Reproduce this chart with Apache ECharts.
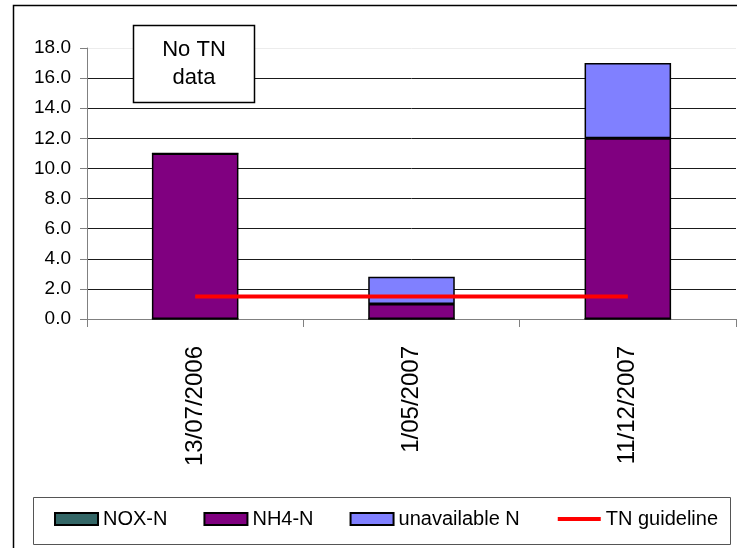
<!DOCTYPE html>
<html>
<head>
<meta charset="utf-8">
<script src="https://cdn.jsdelivr.net/npm/echarts@6/dist/echarts.min.js"></script>
<style>
  html, body { margin: 0; padding: 0; background: #fff; }
  #chart { width: 737px; height: 548px; }
</style>
</head>
<body>
<div id="chart"></div>
<script>
// Sampling dates
const categories = ['13/07/2006', '1/05/2007', '11/12/2007'];
// Nitrogen fractions (stacked)
const noxN = [0, 0, 0];
const nh4N = [11.0, 1.0, 12.0];
const unavailableN = [0, 1.8, 5.0];
// Total nitrogen guideline
const tnGuideline = [1.5, 1.5, 1.5];
// Value axis ticks
const yMin = 0, yMax = 18, yStep = 2;

const FONT = 'Liberation Sans, Arial, sans-serif';
const chart = echarts.init(document.getElementById('chart'), null, { renderer: 'canvas' });

const gridColors = [];
for (let v = yMin; v <= yMax; v += yStep) gridColors.push(v === yMax ? '#ececec' : '#1a1a1a');

chart.setOption({
  animation: false,
  backgroundColor: '#fff',
  textStyle: { fontFamily: FONT },
  grid: { left: 87, right: 1, top: 48, bottom: 229, containLabel: false },
  xAxis: {
    type: 'category',
    data: categories,
    boundaryGap: true,
    axisLine: { lineStyle: { color: '#808080', width: 1 } },
    axisTick: { show: true, length: 8, lineStyle: { color: '#808080' } },
    axisLabel: { rotate: 90, margin: 27, color: '#000', fontSize: 24, fontFamily: FONT },
    splitLine: { show: false }
  },
  yAxis: {
    type: 'value',
    min: yMin, max: yMax, interval: yStep,
    axisLine: { show: true, lineStyle: { color: '#808080', width: 1 } },
    axisTick: { show: true, length: 7, lineStyle: { color: '#808080' } },
    axisLabel: {
      color: '#000', fontSize: 19, fontFamily: FONT, margin: 16,
      formatter: v => v.toFixed(1)
    },
    splitLine: { show: true, lineStyle: { color: gridColors, width: 1 } }
  },
  legend: {
    left: 54, top: 509, padding: 0,
    itemWidth: 43, itemHeight: 12, itemGap: 36,
    textStyle: { fontSize: 20, color: '#000', fontFamily: FONT },
    data: [
      { name: 'NOX-N', icon: 'rect' },
      { name: 'NH4-N', icon: 'rect' },
      { name: 'unavailable N', icon: 'rect' },
      { name: 'TN guideline', itemStyle: { opacity: 0 }, lineStyle: { width: 4 } }
    ]
  },
  series: [
    {
      name: 'NOX-N', type: 'bar', stack: 'N', barWidth: '40%',
      itemStyle: { color: '#336666', borderColor: '#000', borderWidth: 1 },
      data: noxN
    },
    {
      name: 'NH4-N', type: 'bar', stack: 'N', barWidth: '40%',
      itemStyle: { color: '#800080', borderColor: '#000', borderWidth: 1.5 },
      data: nh4N
    },
    {
      name: 'unavailable N', type: 'bar', stack: 'N', barWidth: '40%',
      itemStyle: { color: '#8080FF', borderColor: '#000', borderWidth: 1.5 },
      data: unavailableN
    },
    {
      name: 'TN guideline', type: 'line', symbol: 'none', z: 5,
      lineStyle: { color: '#FF0000', width: 4 },
      itemStyle: { color: '#FF0000' },
      data: tnGuideline
    }
  ],
  graphic: [
    {
      type: 'rect', silent: true, z: -1,
      shape: { x: 13.5, y: 5.5, width: 800, height: 600 },
      style: { fill: 'none', stroke: '#000', lineWidth: 1.5 }
    },
    {
      type: 'rect', silent: true, z: -1,
      shape: { x: 33.5, y: 497.5, width: 697, height: 47 },
      style: { fill: '#fff', stroke: '#555', lineWidth: 1 }
    },
    {
      type: 'rect', silent: true, z: 100,
      shape: { x: 133.5, y: 25.5, width: 121, height: 77 },
      style: { fill: '#fff', stroke: '#000', lineWidth: 1.5 }
    },
    {
      type: 'text', silent: true, z: 101,
      style: {
        x: 194, y: 64, text: 'No TN\ndata', align: 'center', verticalAlign: 'middle',
        fontSize: 22, lineHeight: 28, fontFamily: FONT, fill: '#000'
      }
    }
  ]
});
</script>
</body>
</html>
